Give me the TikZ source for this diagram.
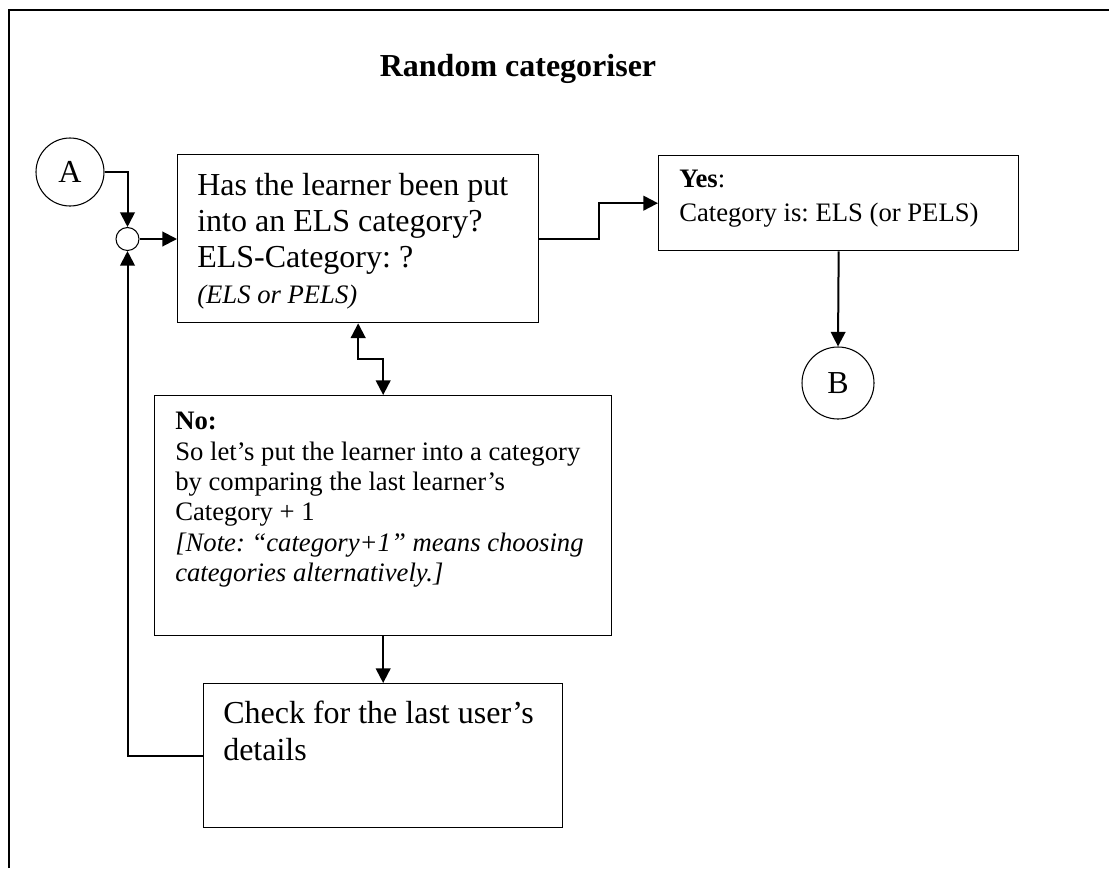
\documentclass[tikz,border=0pt]{standalone}
\usepackage{fontspec}
\setmainfont{Liberation Serif}
\usetikzlibrary{arrows.meta}
\frenchspacing

\tikzset{
  box/.style={draw, line width=1pt, anchor=north west, inner sep=0pt},
  conn/.style={circle, draw, line width=0.8pt, inner sep=0pt, font=\fontsize{24}{27}\selectfont},
  txt/.style={anchor=north west, inner sep=0pt, align=left},
  flow/.style={line width=1.5pt, -{Triangle[length=11pt,width=11pt]}},
}

\begin{document}
\begin{tikzpicture}[x=0.75pt,y=-0.75pt]
    \useasboundingbox (0,0) rectangle (1109,868);
    \draw[line width=1.5pt] (8.5,868) -- (8.5,9.5) -- (1109,9.5);
    \node[anchor=base, font=\fontsize{24}{27}\selectfont\bfseries] (title) at (518,76) {Random categoriser};

    % boxes
    \node[box, minimum width=270.75pt, minimum height=126pt] (main) at (177,154) {};
    \node[box, minimum width=270pt, minimum height=71.25pt] (yes) at (658,155) {};
    \node[box, minimum width=342.75pt, minimum height=180pt] (no) at (154,395) {};
    \node[box, minimum width=269.25pt, minimum height=108pt] (check) at (203,683) {};

    % connectors
    \node[conn, minimum size=51pt] (A) at (70,172) {A};
    \node[conn, minimum size=54pt] (B) at (838,383) {B};
    \node[conn, minimum size=17.25pt] (join) at (127.5,239) {};

    % texts
    \node[txt, font=\fontsize{24}{27}\selectfont] (main-txt) at (197,173) {Has the learner been put\\
      into an ELS category?\\
      ELS-Category: ?\\
      \fontsize{20}{24.75}\selectfont\itshape (ELS or PELS)};
    \node[txt, font=\fontsize{20}{25.5}\selectfont] (yes-txt) at (679,170) {\textbf{Yes}:\\
      Category is: ELS (or PELS)};
    \node[txt, font=\fontsize{20}{22.8}\selectfont] (no-txt) at (175,412) {\textbf{No:}\\
      So let’s put the learner into a category\\
      by comparing the last learner’s\\
      Category + 1\\
      \itshape [Note: “category+1” means choosing\\
      \itshape categories alternatively.]};
    \node[txt, font=\fontsize{24}{27.75}\selectfont] (check-txt) at (223,701) {Check for the last user’s\\
      details};

    % arrows
    \draw[flow] (A.east) -| (join.north);
    \draw[flow] (join.east) -- (join.east -| main.west);
    \draw[flow] (main.east) -- ++(60,0) |- (yes.west);
    \draw[flow] (yes.south) -- (B.north);
    \draw[flow, {Triangle[length=11pt,width=11pt]}-{Triangle[length=11pt,width=11pt]}] (main.south) -- ++(0,36) -| (no.north);
    \draw[flow] (no.south) -- (check.north);
    \draw[flow] (check.west) -| (join.south);
\end{tikzpicture}
\end{document}
